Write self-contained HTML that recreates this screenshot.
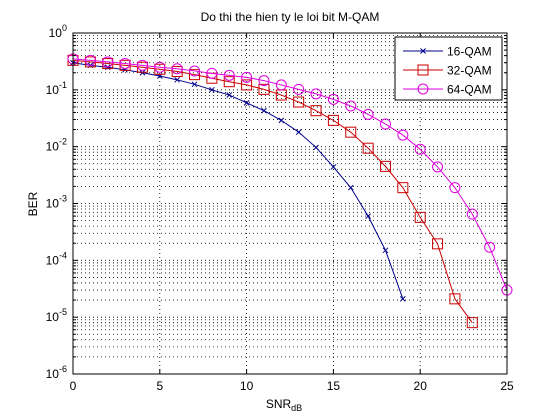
<!DOCTYPE html>
<html><head><meta charset="utf-8"><style>
body{margin:0;background:#fff;}
svg{display:block;font-family:"Liberation Sans",Arial,sans-serif;}
</style></head><body>
<svg id="chart" width="560" height="420" viewBox="0 0 560 420">
<rect x="0" y="0" width="560" height="420" fill="#fff"/>
<g id="grid"></g>
<g id="series"></g>
<g id="axes"></g>
</svg>
<script>
const snr16=[0,1,2,3,4,5,6,7,8,9,10,11,12,13,14,15,16,17,18,19];
const ber16=[0.30,0.27,0.25,0.225,0.20,0.175,0.15,0.125,0.10,0.081,0.059,0.043,0.029,0.018,0.0097,0.0044,0.0019,0.0006,0.00015,0.000021];
const snr32=[0,1,2,3,4,5,6,7,8,9,10,11,12,13,14,15,16,17,18,19,20,21,22,23];
const ber32=[0.33,0.31,0.29,0.27,0.25,0.23,0.21,0.185,0.16,0.139,0.122,0.102,0.081,0.061,0.043,0.029,0.018,0.0094,0.0045,0.0019,0.00057,0.000195,0.000021,0.000008];
const snr64=[0,1,2,3,4,5,6,7,8,9,10,11,12,13,14,15,16,17,18,19,20,21,22,23,24,25];
const ber64=[0.35,0.33,0.31,0.29,0.27,0.25,0.235,0.215,0.195,0.18,0.166,0.145,0.122,0.102,0.085,0.068,0.052,0.037,0.025,0.016,0.009,0.0044,0.0019,0.00065,0.00017,0.00003];
const xTicks=[0,5,10,15,20,25];
const yExp=[0,-1,-2,-3,-4,-5,-6];
const seriesNames=["16-QAM","32-QAM","64-QAM"];

const L=73,R=507,T=33,B=374;
const NS="http://www.w3.org/2000/svg";
function X(v){return L+(v-0)/(25-0)*(R-L);}
function Y(v){return T+(0-Math.log10(v))/6*(B-T);}
function mk(tag,attrs,parent){const e=document.createElementNS(NS,tag);for(const k in attrs)e.setAttribute(k,attrs[k]);parent.appendChild(e);return e;}
const grid=document.getElementById('grid'),ser=document.getElementById('series'),ax=document.getElementById('axes');
// grid
for(let d=0;d<6;d++){for(let k=1;k<=9;k++){const v=Math.pow(10,-d-1)*k;const y=Y(v);
 const l=mk('line',{x1:L,x2:R,y1:y,y2:y,stroke:'#000','stroke-width':0.8,'stroke-dasharray':'1,3'},grid);
 
 
 const tl=k==1?5:3;
 mk('line',{x1:L,x2:L+tl,y1:y,y2:y,stroke:'#000'},ax);
 mk('line',{x1:R,x2:R-tl,y1:y,y2:y,stroke:'#000'},ax);
}}
xTicks.forEach(t=>{const x=X(t);
 if(t>0&&t<25){const l=mk('line',{x1:x,x2:x,y1:T,y2:B,stroke:'#000','stroke-width':0.8,'stroke-dasharray':'1,3'},grid);
 
 }
 mk('line',{x1:x,x2:x,y1:B,y2:B-5,stroke:'#000'},ax);
 mk('line',{x1:x,x2:x,y1:T,y2:T+5,stroke:'#000'},ax);
 const tx=mk('text',{x:x,y:B+16,'text-anchor':'middle','font-size':12},ax);tx.textContent=t;
 
 
});
yExp.forEach(e=>{const y=Y(Math.pow(10,e));
 const tx=mk('text',{x:L-6,y:y+4,'text-anchor':'end','font-size':12},ax);
 tx.innerHTML='10<tspan dy="-6" font-size="9">'+e+'</tspan>';
 
 
});
const fr=mk('rect',{x:L,y:T,width:R-L,height:B-T,fill:'none',stroke:'#000'},ax);


// series
function marker(type,x,y,c,p){
 if(type=='x'){mk('path',{d:`M${x-2.5} ${y-2.5}L${x+2.5} ${y+2.5}M${x-2.5} ${y+2.5}L${x+2.5} ${y-2.5}`,stroke:c,'stroke-width':1},p);}
 else if(type=='s'){mk('rect',{x:x-5,y:y-5,width:10,height:10,fill:'none',stroke:c,'stroke-width':1},p);}
 else {mk('circle',{cx:x,cy:y,r:5,fill:'none',stroke:c,'stroke-width':1},p);}
}
const defs=[[snr16,ber16,'#00008b','x','series-16qam'],[snr32,ber32,'#cc0000','s','series-32qam'],[snr64,ber64,'#e000e0','o','series-64qam']];
defs.forEach(([xs,ys,c,m,n])=>{
 const g=mk('g',{},ser);
 
 
 const pts=xs.map((v,i)=>X(v)+','+Y(ys[i])).join(' ');
 mk('polyline',{points:pts,fill:'none',stroke:c,'stroke-width':1},g);
 xs.forEach((v,i)=>marker(m,X(v),Y(ys[i]),c,g));
});
// legend
const lg=mk('g',{},ax);


mk('rect',{x:395,y:37,width:107,height:63,fill:'#fff',stroke:'#000'},lg);
[[51,'#00008b','x'],[70,'#cc0000','s'],[89,'#e000e0','o']].forEach(([y,c,m],i)=>{
 const e=mk('g',{},lg);
 
 
 mk('line',{x1:403,x2:443,y1:y,y2:y,stroke:c},e);
 marker(m,423,y,c,e);
 const t=mk('text',{x:447,y:y+4.5,'font-size':12},e);t.textContent=seriesNames[i];
});
const title=mk('text',{x:290,y:21,'text-anchor':'middle','font-size':12},ax);
title.textContent='Do thi the hien ty le loi bit M-QAM';


const xl=mk('text',{x:284,y:408,'text-anchor':'middle','font-size':12},ax);
xl.innerHTML='SNR<tspan dy="3" font-size="9">dB</tspan>';


const yl=mk('text',{x:0,y:0,'text-anchor':'middle','font-size':12,transform:'translate(37,204) rotate(-90)'},ax);
yl.textContent='BER';


</script>
</body></html>
